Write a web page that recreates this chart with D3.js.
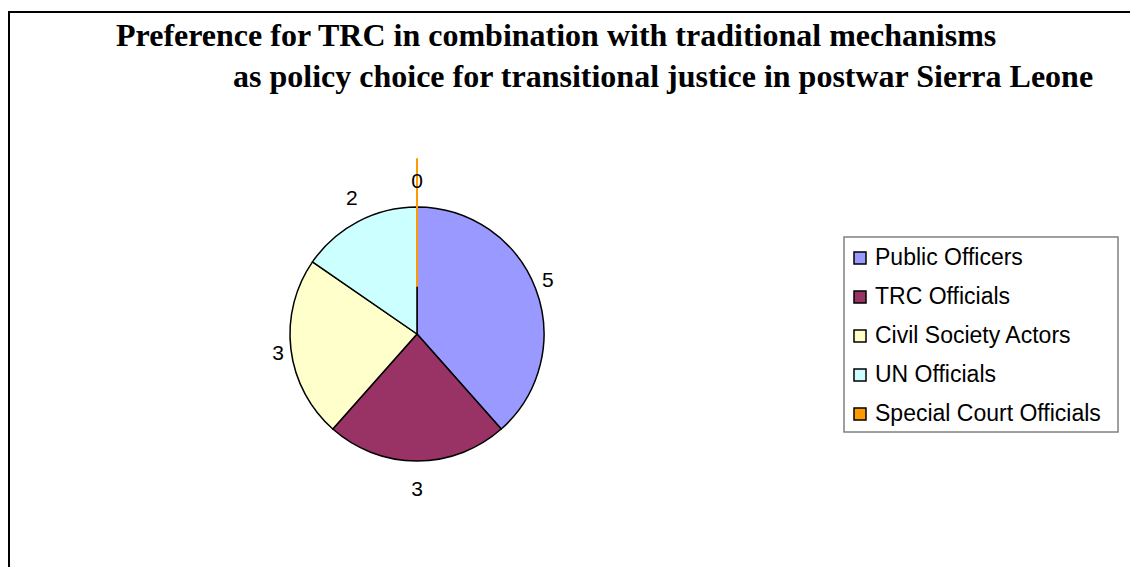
<!DOCTYPE html>
<html>
<head>
<meta charset="utf-8">
<script src="https://cdn.jsdelivr.net/npm/d3@7"></script>
<style>
  body { margin: 0; background: #fff; }
  svg { display: block; }
</style>
</head>
<body>
<div id="chart"></div>
<script>
// data
var categories = ["Public Officers", "TRC Officials", "Civil Society Actors", "UN Officials", "Special Court Officials"];
var counts = [5, 3, 3, 2, 0];
var sliceColors = ["#9999FF", "#993366", "#FFFFCC", "#CCFFFF", "#FF9900"];
var titleLines = ["Preference for TRC in combination with traditional mechanisms",
                  "as policy choice for transitional justice in postwar Sierra Leone"];

var W = 1130, H = 567;
var svg = d3.select("#chart").append("svg").attr("width", W).attr("height", H);

// outer frame (runs off the right / bottom edge)
svg.append("rect")
    .attr("x", 9).attr("y", 12)
    .attr("width", 1300).attr("height", 800)
    .attr("fill", "#fff").attr("stroke", "#000").attr("stroke-width", 2);

// title
var titleX = [116, 233], titleY = [46, 87];
svg.selectAll("text.title").data(titleLines).enter().append("text")
    .attr("class", "title")
    .attr("x", function (d, i) { return titleX[i]; })
    .attr("y", function (d, i) { return titleY[i]; })
    .attr("font-family", "'Liberation Serif', 'Times New Roman', serif")
    .attr("font-weight", "bold")
    .attr("font-size", 32)
    .text(function (d) { return d; });

// pie
var cx = 417, cy = 334, r = 127;
var color = d3.scaleOrdinal().domain(categories).range(sliceColors);
var pie = d3.pie().sort(null).value(function (d) { return d.v; });
var arcs = pie(categories.map(function (c, i) { return { name: c, v: counts[i] }; }));
var arc = d3.arc().innerRadius(0).outerRadius(r);

var g = svg.append("g").attr("transform", "translate(" + cx + "," + cy + ")");
g.selectAll("path.slice").data(arcs).enter().append("path")
    .attr("class", "slice")
    .attr("d", arc)
    .attr("transform", function (d) {
        // the empty slice sits pulled out from the centre
        if (d.value > 0) return null;
        var a = (d.startAngle + d.endAngle) / 2, off = 48;
        return "translate(" + (Math.sin(a) * off) + "," + (-Math.cos(a) * off) + ")";
    })
    .attr("fill", function (d) { return color(d.data.name); })
    .attr("stroke", function (d) { return d.value > 0 ? "#000" : color(d.data.name); })
    .attr("stroke-width", function (d) { return d.value > 0 ? 1.5 : 2; })
    .attr("stroke-linejoin", "round");

// value labels, on a slightly taller-than-wide ring outside the pie
var labRx = 140, labRy = 154;
g.selectAll("text.lbl").data(arcs).enter().append("text")
    .attr("class", "lbl")
    .attr("transform", function (d) {
        var a = (d.startAngle + d.endAngle) / 2;
        return "translate(" + (Math.sin(a) * labRx) + "," + (-Math.cos(a) * labRy) + ")";
    })
    .attr("text-anchor", "middle")
    .attr("dy", "0.36em")
    .attr("font-family", "'Liberation Sans', Arial, sans-serif")
    .attr("font-size", 21)
    .attr("fill", "#000")
    .text(function (d) { return d.value; });

// legend
var lx = 844, ly = 237, lw = 274, lh = 195, rowH = 39;
var legend = svg.append("g");
legend.append("rect")
    .attr("x", lx).attr("y", ly).attr("width", lw).attr("height", lh)
    .attr("fill", "#fff").attr("stroke", "#808080").attr("stroke-width", 1.5);
var item = legend.selectAll("g.item").data(categories).enter().append("g")
    .attr("class", "item")
    .attr("transform", function (d, i) { return "translate(" + lx + "," + (ly + 28 + i * rowH) + ")"; });
item.append("rect")
    .attr("x", 10).attr("y", -13).attr("width", 12).attr("height", 12)
    .attr("fill", function (d) { return color(d); })
    .attr("stroke", "#000").attr("stroke-width", 1.5);
item.append("text")
    .attr("x", 31).attr("y", 0)
    .attr("font-family", "'Liberation Sans', Arial, sans-serif")
    .attr("font-size", 23)
    .text(function (d) { return d; });
</script>
</body>
</html>
